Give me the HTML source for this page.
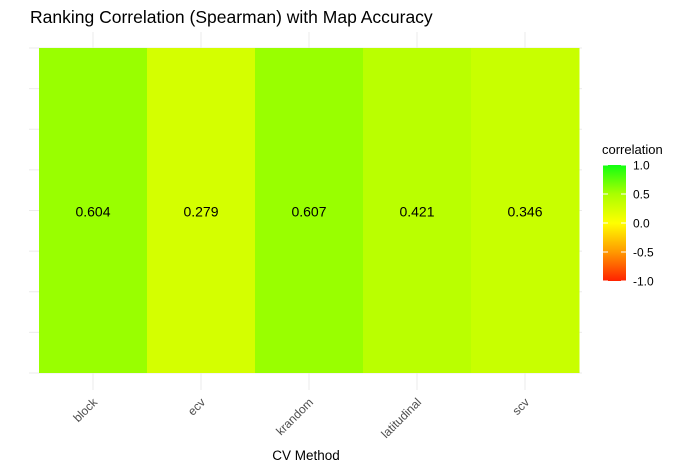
<!DOCTYPE html>
<html><head><meta charset="utf-8"><style>
body{margin:0;background:#fff;font-family:"Liberation Sans",Arial,sans-serif}
svg{display:block}
</style></head><body>
<svg id="chart" width="686" height="469" xmlns="http://www.w3.org/2000/svg">
<defs>
<linearGradient id="lg" x1="0" y1="1" x2="0" y2="0">
<stop offset="0" stop-color="#ff2200"/><stop offset="0.25" stop-color="#ff9900"/>
<stop offset="0.5" stop-color="#ffff00"/><stop offset="0.75" stop-color="#aaff00"/>
<stop offset="1" stop-color="#11ff11"/></linearGradient>
</defs>
<text x="30" y="23" font-size="17.5" fill="#000">Ranking Correlation (Spearman) with Map Accuracy</text>
<g id="grid"></g><g id="tiles"></g><g id="labels"></g><g id="xticks"></g>
<text x="306" y="460" font-size="13.5" text-anchor="middle" fill="#000">CV Method</text>
<g>
<text x="602" y="154" font-size="13" fill="#000">correlation</text>
<rect x="603" y="165" width="23" height="116" fill="url(#lg)"/>
<g id="leg"></g>
</g>
</svg>
<script>
const categories=["block","ecv","krandom","latitudinal","scv"];
const values=[0.604,0.279,0.607,0.421,0.346];
const legendTicks=[1.0,0.5,0.0,-0.5,-1.0];
const legendLabels=["1.0","0.5","0.0","-0.5","-1.0"];
const NS="http://www.w3.org/2000/svg";
const L=39,R=579,T=48,B=373;
const bw=(R-L)/categories.length;
function xPos(i){return L+i*bw;}
function color(v){
 if(v>=0){const r=Math.max(0,Math.min(255,Math.round(263-182*v)));return `rgb(${r},255,0)`;}
 const g=Math.round(255*(1+v));return `rgb(255,${g},0)`;
}
function mk(tag,attrs,parent){const e=document.createElementNS(NS,tag);for(const k in attrs)e.setAttribute(k,attrs[k]);parent.appendChild(e);return e;}
const grid=document.getElementById('grid');
for(let k=0;k<=8;k++){const y=T+k*(B-T)/8;
 const l=mk('line',{x1:29,x2:582,y1:y,y2:y,stroke:'#ebebeb','stroke-width':1},grid);
 
 }
categories.forEach((c,i)=>{const x=xPos(i)+bw/2;
 const l=mk('line',{x1:x,x2:x,y1:32,y2:390,stroke:'#ebebeb','stroke-width':1},grid);
 
 });
const tiles=document.getElementById('tiles'),labels=document.getElementById('labels'),xt=document.getElementById('xticks');
categories.forEach((c,i)=>{
 const r=mk('rect',{x:xPos(i),y:T,width:bw+0.5,height:B-T,fill:color(values[i])},tiles);
 
 
 const t=mk('text',{x:xPos(i)+bw/2,y:(T+B)/2+6,'font-size':14,'text-anchor':'middle',fill:'#000'},labels);
 t.textContent=values[i].toFixed(3);
 
 
 const cx=xPos(i)+bw/2+5,cy=403;
 const xl=mk('text',{x:cx,y:cy,'font-size':12,'text-anchor':'end',fill:'#4d4d4d',transform:`rotate(-45 ${cx} ${cy})`},xt);
 xl.textContent=c;
 
 
});
const leg=document.getElementById('leg');
legendTicks.forEach((v,i)=>{const y=165+(1-v)/2*116;
 const a=mk('line',{x1:603,x2:608,y1:y,y2:y,stroke:'#fff','stroke-width':1},leg);
 
 
 const b=mk('line',{x1:621,x2:626,y1:y,y2:y,stroke:'#fff','stroke-width':1},leg);
 
 
 const t=mk('text',{x:633,y:y+4.5,'font-size':12,fill:'#000'},leg);
 t.textContent=legendLabels[i];
 
 });
</script>
</body></html>
